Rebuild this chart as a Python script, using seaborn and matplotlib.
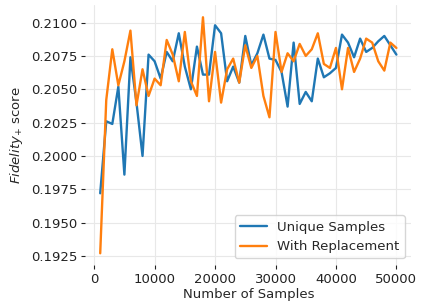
import pandas as pd
import seaborn as sns
import matplotlib.pyplot as plt

# Sample counts (thousands -> samples)
samples = [k * 1000 for k in range(1, 51)]

unique_samples = [
    0.1972, 0.2026, 0.2024, 0.2052, 0.1986, 0.2074, 0.2040, 0.2000, 0.2076, 0.2071,
    0.2058, 0.2078, 0.2071, 0.2092, 0.2067, 0.2050, 0.2082, 0.2061, 0.2061, 0.2098,
    0.2092, 0.2056, 0.2067, 0.2055, 0.2090, 0.2068, 0.2077, 0.2091, 0.2073, 0.2072,
    0.2063, 0.2037, 0.2085, 0.2039, 0.2048, 0.2041, 0.2073, 0.2059, 0.2062, 0.2066,
    0.2091, 0.2085, 0.2074, 0.2088, 0.2078, 0.2081, 0.2086, 0.2090, 0.2083, 0.2076,
]

with_replacement = [
    0.1927, 0.2042, 0.2080, 0.2053, 0.2071, 0.2094, 0.2038, 0.2065, 0.2045, 0.2058,
    0.2053, 0.2087, 0.2076, 0.2056, 0.2093, 0.2056, 0.2045, 0.2104, 0.2041, 0.2078,
    0.2040, 0.2065, 0.2073, 0.2055, 0.2083, 0.2066, 0.2075, 0.2045, 0.2029, 0.2093,
    0.2063, 0.2077, 0.2071, 0.2084, 0.2075, 0.2080, 0.2092, 0.2069, 0.2066, 0.2081,
    0.2050, 0.2081, 0.2063, 0.2073, 0.2088, 0.2085, 0.2071, 0.2064, 0.2085, 0.2081,
]

df = pd.DataFrame({
    'Samples': samples,
    'Unique Samples': unique_samples,
    'With Replacement': with_replacement,
})
df_melted = df.melt(id_vars='Samples', var_name='Method', value_name='Score')

sns.set_style('whitegrid')
plt.rcParams['font.family'] = ['DejaVu Sans']
plt.rcParams.update({
    'xtick.bottom': True, 'ytick.left': True,
    'xtick.major.size': 3, 'ytick.major.size': 3,
    'xtick.major.pad': 3, 'ytick.major.pad': 3,
    'xtick.color': '#222222', 'ytick.color': '#222222',
    'grid.color': '#e8e8e8',
})

fig, ax = plt.subplots(figsize=(4.27, 3.04), dpi=100)
sns.lineplot(data=df_melted, x='Samples', y='Score', hue='Method',
             palette=['#1f77b4', '#ff7f0e'], linewidth=1.7, ax=ax)

sns.despine(left=True, bottom=True)
ax.set_xlabel('Number of Samples', fontsize=9.5, labelpad=1)
ax.set_ylabel(r'$Fidelity_{+}$ score', fontsize=9.5)
ax.set_xticks([0, 10000, 20000, 30000, 40000, 50000])
ax.set_yticks([0.1925, 0.1950, 0.1975, 0.2000, 0.2025, 0.2050, 0.2075, 0.2100])
ax.tick_params(labelsize=9.5)
ax.legend(title=None, loc='lower right', fontsize=9.5)

fig.subplots_adjust(left=0.2, right=0.963, bottom=0.128, top=0.982)
fig.savefig('out.png', dpi=100)
